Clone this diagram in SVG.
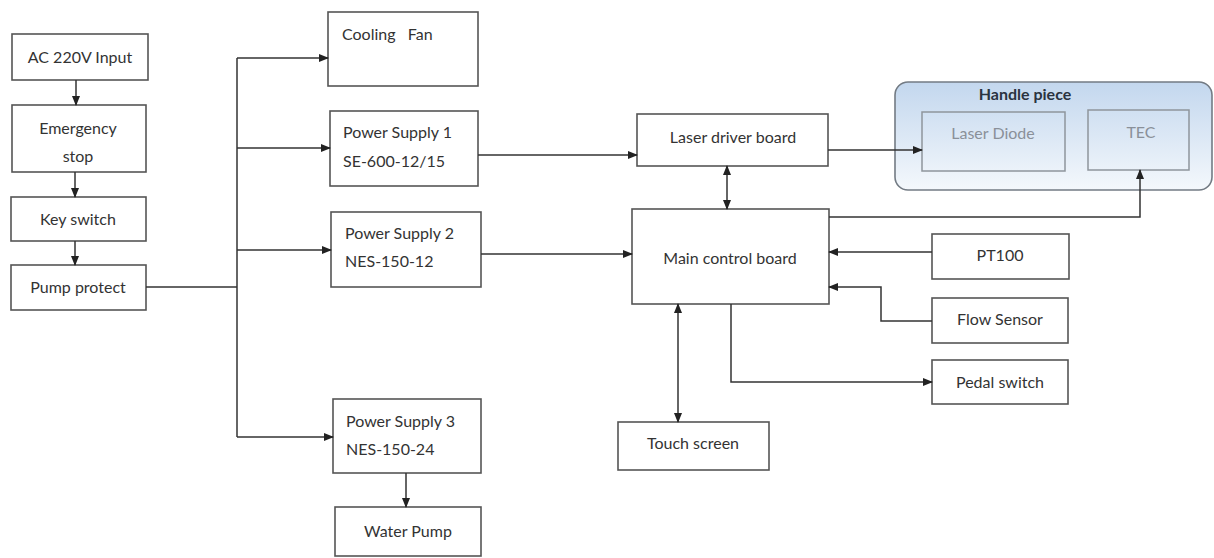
<svg xmlns="http://www.w3.org/2000/svg" width="1214" height="558" viewBox="0 0 1214 558">
<defs>
<marker id="arr" markerWidth="10" markerHeight="8" refX="9" refY="4" orient="auto-start-reverse" markerUnits="userSpaceOnUse">
<path d="M0,0 L10,4 L0,8 Z" fill="#222"/>
</marker>
<linearGradient id="hg" x1="0" y1="0" x2="0" y2="1">
<stop offset="0" stop-color="#c3d7ee"/>
<stop offset="1" stop-color="#f4f8fc"/>
</linearGradient>
</defs>
<style>
.box{fill:#fff;stroke:#555;stroke-width:1.6}
.sub{fill:none;stroke:#8e959c;stroke-width:1.5}
.t{font-family:Lato,"Open Sans","Liberation Sans",sans-serif;font-size:16px;fill:#333;dominant-baseline:central}
.c{text-anchor:middle}
.g{fill:#8a9099}
.b{font-weight:bold;fill:#2a3340}
.ln{fill:none;stroke:#333;stroke-width:1.5}
</style>
<rect width="1214" height="558" fill="#fff"/>

<g id="ac-input"><rect class="box" x="12" y="34" width="136" height="46"/><text class="t c" x="80" y="56">AC 220V Input</text></g>
<g id="emergency-stop"><rect class="box" x="12" y="105" width="134" height="67"/><text class="t c" x="78" y="127">Emergency</text><text class="t c" x="78" y="155">stop</text></g>
<g id="key-switch"><rect class="box" x="11" y="197" width="135" height="44"/><text class="t c" x="78" y="218">Key switch</text></g>
<g id="pump-protect"><rect class="box" x="11" y="265" width="135" height="45"/><text class="t c" x="78" y="286">Pump protect</text></g>

<g id="cooling-fan"><rect class="box" x="328" y="12" width="150" height="74"/><text class="t" x="342" y="33" style="white-space:pre">Cooling   Fan</text></g>
<g id="power-supply-1"><rect class="box" x="330" y="111" width="148" height="75"/><text class="t" x="343" y="131">Power Supply 1</text><text class="t" x="343" y="160">SE-600-12/15</text></g>
<g id="power-supply-2"><rect class="box" x="331" y="212" width="150" height="75"/><text class="t" x="345" y="232">Power Supply 2</text><text class="t" x="345" y="260">NES-150-12</text></g>
<g id="power-supply-3"><rect class="box" x="333" y="399" width="148" height="74"/><text class="t" x="346" y="420">Power Supply 3</text><text class="t" x="346" y="448">NES-150-24</text></g>
<g id="water-pump"><rect class="box" x="335" y="507" width="146" height="49"/><text class="t c" x="408" y="530">Water Pump</text></g>

<g id="laser-driver-board"><rect class="box" x="637" y="114" width="191" height="52"/><text class="t c" x="733" y="136">Laser driver board</text></g>
<g id="main-control-board"><rect class="box" x="632" y="209" width="197" height="95"/><text class="t c" x="730" y="257">Main control board</text></g>
<g id="touch-screen"><rect class="box" x="618" y="422" width="151" height="48"/><text class="t c" x="693" y="442">Touch screen</text></g>
<g id="pt100"><rect class="box" x="932" y="234" width="137" height="45"/><text class="t c" x="1000" y="254">PT100</text></g>
<g id="flow-sensor"><rect class="box" x="932" y="298" width="136" height="45"/><text class="t c" x="1000" y="318">Flow Sensor</text></g>
<g id="pedal-switch"><rect class="box" x="932" y="360" width="136" height="44"/><text class="t c" x="1000" y="381">Pedal switch</text></g>

<g id="handle-piece">
<rect x="895" y="82" width="317" height="108" rx="13" fill="url(#hg)" stroke="#737b84" stroke-width="1.6"/>
<text class="t c b" x="1025" y="93">Handle piece</text>
<g id="laser-diode"><rect class="sub" x="922" y="112" width="143" height="59"/><text class="t c g" x="993" y="132">Laser Diode</text></g>
<g id="tec"><rect class="sub" x="1088" y="110" width="101" height="60"/><text class="t c g" x="1141" y="131">TEC</text></g>
</g>

<g id="connectors">
<path class="ln" d="M76,80 V105" marker-end="url(#arr)"/>
<path class="ln" d="M75,172 V197" marker-end="url(#arr)"/>
<path class="ln" d="M75,241 V265" marker-end="url(#arr)"/>
<path class="ln" d="M146,287 H237"/>
<path class="ln" d="M237,58 V437"/>
<path class="ln" d="M237,58 H328" marker-end="url(#arr)"/>
<path class="ln" d="M237,148 H330" marker-end="url(#arr)"/>
<path class="ln" d="M237,250 H331" marker-end="url(#arr)"/>
<path class="ln" d="M237,437 H333" marker-end="url(#arr)"/>
<path class="ln" d="M406,473 V507" marker-end="url(#arr)"/>
<path class="ln" d="M478,155 H637" marker-end="url(#arr)"/>
<path class="ln" d="M481,254 H632" marker-end="url(#arr)"/>
<path class="ln" d="M727,166 V209" marker-start="url(#arr)" marker-end="url(#arr)"/>
<path class="ln" d="M828,150 H922" marker-end="url(#arr)"/>
<path class="ln" d="M829,217 H1140 V170" marker-end="url(#arr)"/>
<path class="ln" d="M932,252 H829" marker-end="url(#arr)"/>
<path class="ln" d="M932,321 H881 V287 H829" marker-end="url(#arr)"/>
<path class="ln" d="M731,304 V382 H932" marker-end="url(#arr)"/>
<path class="ln" d="M678,304 V422" marker-start="url(#arr)" marker-end="url(#arr)"/>
</g>
</svg>
